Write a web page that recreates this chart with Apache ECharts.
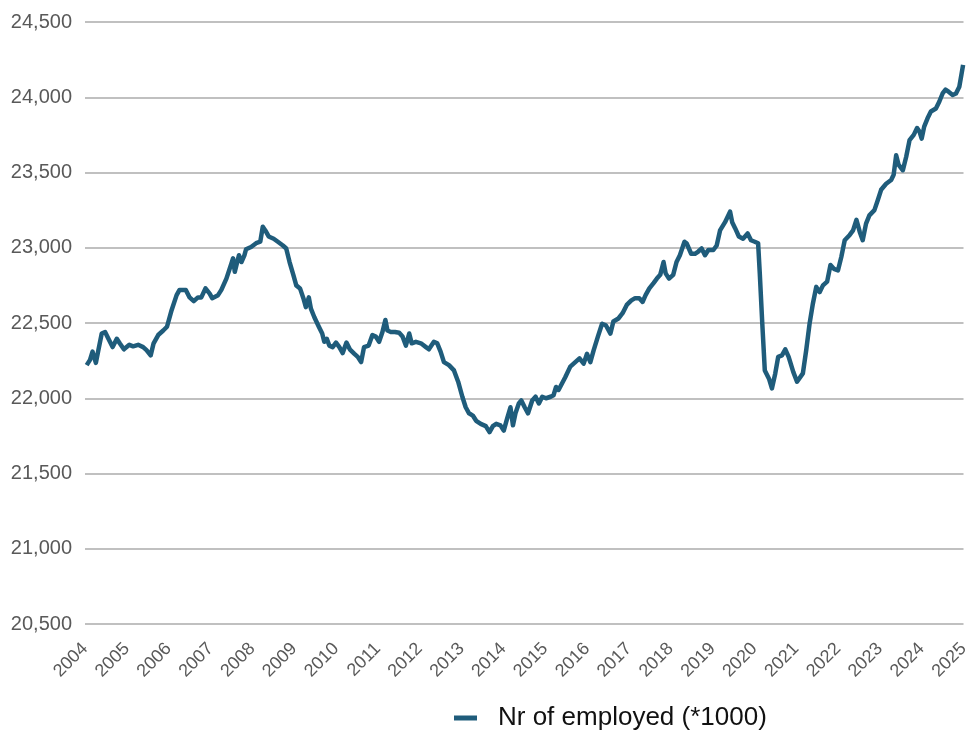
<!DOCTYPE html>
<html>
<head>
<meta charset="utf-8">
<style>
  html, body { margin: 0; padding: 0; background: #fff; }
  #container { width: 972px; height: 732px; }
</style>
<script src="https://cdn.jsdelivr.net/npm/echarts@6/dist/echarts.min.js"></script>
</head>
<body>
<div id="container"></div>
<script>
// time as decimal year
var years = [
  2004.04, 2004.12, 2004.18, 2004.26, 2004.32, 2004.40, 2004.48, 2004.56, 2004.66, 2004.76, 2004.83, 2004.93,
  2005.06, 2005.15, 2005.27, 2005.39, 2005.47, 2005.57, 2005.64, 2005.75, 2005.87, 2005.96,
  2006.07, 2006.19, 2006.26, 2006.41, 2006.50, 2006.60, 2006.70, 2006.78, 2006.88, 2006.98,
  2007.04, 2007.18, 2007.26, 2007.38, 2007.50, 2007.54, 2007.58, 2007.63, 2007.68, 2007.74, 2007.81, 2007.85, 2007.97,
  2008.09, 2008.19, 2008.25, 2008.31, 2008.39, 2008.51, 2008.61, 2008.73, 2008.81, 2008.89, 2008.98,
  2009.05, 2009.14, 2009.22, 2009.28, 2009.35, 2009.40, 2009.48, 2009.59, 2009.67, 2009.72, 2009.78, 2009.84, 2009.92,
  2010.00, 2010.08, 2010.16, 2010.25, 2010.33, 2010.44, 2010.52, 2010.60, 2010.67, 2010.78, 2010.87, 2010.95,
  2011.03, 2011.11, 2011.18, 2011.23, 2011.31, 2011.41, 2011.51, 2011.59, 2011.67, 2011.75, 2011.81, 2011.91,
  2012.03, 2012.15, 2012.22, 2012.34, 2012.42, 2012.50, 2012.58, 2012.70, 2012.82, 2012.92,
  2013.02, 2013.10, 2013.18, 2013.27, 2013.35, 2013.46, 2013.58, 2013.67, 2013.75, 2013.83, 2013.93,
  2014.01, 2014.09, 2014.17, 2014.23, 2014.29, 2014.37, 2014.43, 2014.51, 2014.59, 2014.69, 2014.77, 2014.85, 2014.93,
  2015.02, 2015.13, 2015.20, 2015.26, 2015.32, 2015.48, 2015.60, 2015.72, 2015.82, 2015.92,
  2016.00, 2016.08, 2016.16, 2016.26, 2016.36, 2016.45, 2016.56, 2016.63, 2016.75, 2016.85, 2016.95,
  2017.06, 2017.15, 2017.25, 2017.33, 2017.40, 2017.49, 2017.59, 2017.67, 2017.75, 2017.83, 2017.88, 2017.96,
  2018.06, 2018.14, 2018.22, 2018.33, 2018.38, 2018.49, 2018.58, 2018.66, 2018.74, 2018.82, 2018.90,
  2019.02, 2019.10, 2019.18, 2019.30, 2019.42, 2019.47, 2019.54, 2019.63, 2019.73, 2019.84, 2019.92,
  2020.01, 2020.09, 2020.13, 2020.19, 2020.25, 2020.35, 2020.42, 2020.50, 2020.57, 2020.66, 2020.74, 2020.82, 2020.93,
  2021.02, 2021.16, 2021.24, 2021.32, 2021.40, 2021.48, 2021.56, 2021.64, 2021.74, 2021.82, 2021.90,
  2022.00, 2022.08, 2022.16, 2022.28, 2022.36, 2022.44, 2022.52, 2022.59, 2022.67, 2022.75, 2022.87, 2022.95,
  2023.03, 2023.15, 2023.27, 2023.33, 2023.39, 2023.45, 2023.55, 2023.63, 2023.71, 2023.81, 2023.89, 2023.95,
  2024.00, 2024.06, 2024.14, 2024.22, 2024.34, 2024.42, 2024.50, 2024.57, 2024.65, 2024.74, 2024.82, 2024.90, 2024.95, 2024.99
];

// number of employed (*1000)
var employed = [
  22220, 22255, 22310, 22235, 22320, 22430, 22440, 22395, 22340, 22395, 22365, 22325,
  22355, 22345, 22355, 22340, 22320, 22285, 22365, 22420, 22450, 22475,
  22585, 22685, 22720, 22720, 22670, 22645, 22670, 22670, 22730, 22695,
  22665, 22685, 22720, 22795, 22895, 22930, 22840, 22895, 22950, 22905, 22950, 22990, 23005,
  23030, 23040, 23140, 23115, 23075, 23060, 23040, 23015, 22995, 22905, 22820,
  22750, 22730, 22665, 22605, 22670, 22595, 22540, 22475, 22430, 22375, 22395, 22350, 22340,
  22370, 22340, 22300, 22370, 22325, 22295, 22275, 22240, 22340, 22350, 22420, 22410,
  22375, 22440, 22520, 22450, 22440, 22440, 22435, 22410, 22350, 22430, 22365, 22375,
  22365, 22340, 22325, 22375, 22365, 22310, 22240, 22220, 22185, 22110,
  22010, 21940, 21900, 21885, 21850, 21830, 21815, 21775, 21815, 21830, 21820,
  21785, 21865, 21940, 21820, 21900, 21965, 21985, 21940, 21900, 21985, 22010, 21965, 22010,
  22000, 22010, 22020, 22075, 22055, 22140, 22210, 22240, 22265, 22230,
  22295, 22240, 22320, 22410, 22495, 22485, 22430, 22510, 22530, 22565, 22620,
  22650, 22665, 22665, 22640, 22685, 22730, 22765, 22795, 22820, 22905, 22830, 22795,
  22820, 22905, 22950, 23040, 23030, 22960, 22960, 22975, 22995, 22950, 22985,
  22985, 23015, 23115, 23170, 23240, 23170, 23130, 23075, 23060, 23095, 23050,
  23040, 23030, 22830, 22495, 22185, 22130, 22065, 22165, 22275, 22285, 22325, 22275, 22175,
  22110, 22165, 22320, 22495, 22630, 22740, 22705, 22750, 22775, 22885, 22860,
  22850, 22940, 23050, 23085, 23115, 23185, 23105, 23050, 23160, 23215, 23250, 23315,
  23385, 23425, 23450, 23485, 23615, 23550, 23515, 23605, 23715, 23750, 23795, 23770,
  23725, 23805, 23860, 23905, 23925, 23970, 24025, 24050, 24035, 24015, 24025, 24070, 24150, 24215
];

var yTicks = [20500, 21000, 21500, 22000, 22500, 23000, 23500, 24000, 24500];
var seriesName = 'Nr of employed (*1000)';

var dom = document.getElementById('container');
var myChart = echarts.init(dom, null, { renderer: 'canvas' });

var points = years.map(function (y, i) { return [y, employed[i]]; });

var option = {
  animation: false,
  backgroundColor: '#ffffff',
  textStyle: { fontFamily: 'Arial, "Liberation Sans", sans-serif' },
  grid: { left: 85, right: 6, top: 22, bottom: 108 },
  legend: {
    data: [seriesName],
    left: 449,
    top: 700,
    icon: 'rect',
    itemWidth: 23,
    itemHeight: 5,
    textStyle: { fontSize: 26, color: '#111111', padding: [0, 0, 0, 16] }
  },
  xAxis: {
    type: 'value',
    min: 2004,
    max: 2025,
    interval: 1,
    axisLine: { show: false },
    axisTick: { show: false },
    splitLine: { show: false },
    axisLabel: {
      rotate: 45,
      margin: 22,
      fontSize: 18,
      color: '#595959',
      formatter: function (v) { return String(Math.round(v)); }
    }
  },
  yAxis: {
    type: 'value',
    min: yTicks[0],
    max: yTicks[yTicks.length - 1],
    interval: 500,
    axisLine: { show: false },
    axisTick: { show: false },
    axisLabel: {
      margin: 13,
      fontSize: 20,
      color: '#595959',
      formatter: function (v) { return v.toLocaleString('en-US'); }
    },
    splitLine: { lineStyle: { color: '#c0c0c0', width: 2 } }
  },
  series: [
    {
      name: seriesName,
      type: 'line',
      data: points,
      showSymbol: false,
      smooth: false,
      color: '#1f5c7b',
      lineStyle: { color: '#1f5c7b', width: 4.5, join: 'round' }
    }
  ]
};

myChart.setOption(option);
window.addEventListener('resize', myChart.resize);
</script>
</body>
</html>
